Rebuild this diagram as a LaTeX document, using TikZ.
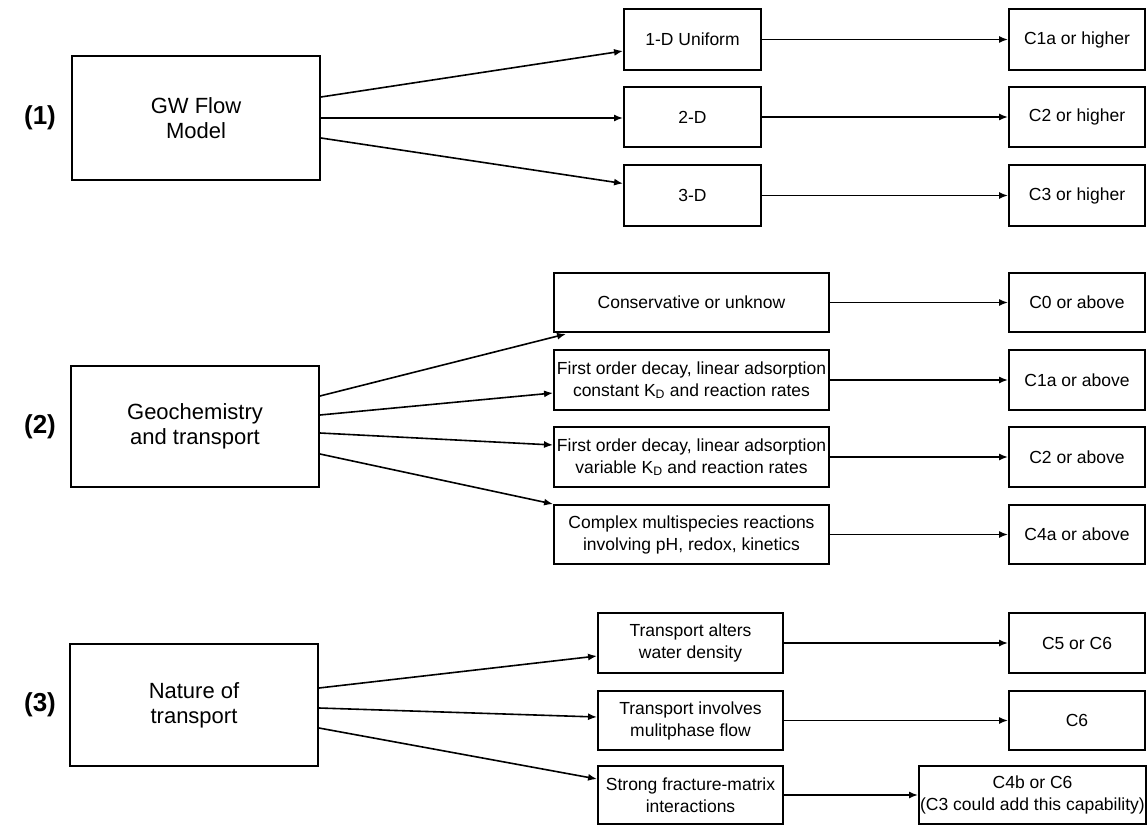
\documentclass[tikz,border=0pt]{standalone}
\usepackage{fontspec}
\setmainfont{Liberation Sans}
\usetikzlibrary{arrows.meta}
\begin{document}
\begin{tikzpicture}[x=1pt,y=-1pt,
  box/.style={draw,line width=1.9pt,rectangle,inner sep=0pt,align=center,
    font=\fontsize{17.5}{22}\selectfont},
  bigbox/.style={box,font=\fontsize{22}{25}\selectfont},
  tag/.style={font=\bfseries\fontsize{26}{30}\selectfont},
  arr/.style={line width=1.6pt,-{Latex[length=9pt,width=7pt]}}]
\useasboundingbox[fill=white] (0,0) rectangle (1147,826);

% ---- (1) groundwater flow model ----
\node[tag] (t1) at (40,118) {(1)};
\node[bigbox,minimum width=248pt,minimum height=124pt] (gw) at (196,118) {GW Flow\\Model};
\node[box,minimum width=137pt,minimum height=61pt] (d1) at (692.5,39.5) {1-D Uniform};
\node[box,minimum width=137pt,minimum height=60pt] (d2) at (692.5,117) {2-D};
\node[box,minimum width=137pt,minimum height=61pt] (d3) at (692.5,195.5) {3-D};
\node[box,minimum width=136pt,minimum height=61pt] (c1) at (1077,39.5) {C1a or higher};
\node[box,minimum width=136pt,minimum height=60pt] (c2) at (1077,117) {C2 or higher};
\node[box,minimum width=136pt,minimum height=61pt] (c3) at (1077,195.5) {C3 or higher};
\draw[arr] ([yshift=21pt]gw.east) -- ([yshift=-11.5pt]d1.west);
\draw[arr] (gw.east) -- (d2.west |- gw.east);
\draw[arr] ([yshift=-20pt]gw.east) -- ([yshift=12pt]d3.west);
\draw[arr] (d1) -- (c1);
\draw[arr] (d2) -- (c2);
\draw[arr] (d3) -- (c3);

% ---- (2) geochemistry and transport ----
\node[tag] (t2) at (40,427) {(2)};
\node[bigbox,minimum width=248pt,minimum height=121pt] (geo) at (195,426.5) {Geochemistry\\and transport};
\node[box,minimum width=275pt,minimum height=59pt] (cons) at (691.5,302.5) {Conservative or unknow};
\node[box,minimum width=275pt,minimum height=60pt] (fo1) at (691.5,380) {First order decay, linear adsorption\\constant K\textsubscript{D} and reaction rates};
\node[box,minimum width=275pt,minimum height=60pt] (fo2) at (691.5,457) {First order decay, linear adsorption\\variable K\textsubscript{D} and reaction rates};
\node[box,minimum width=275pt,minimum height=59pt] (cplx) at (691.5,534.5) {Complex multispecies reactions\\involving pH, redox, kinetics};
\node[box,minimum width=136pt,minimum height=59pt] (k0) at (1077,302.5) {C0 or above};
\node[box,minimum width=136pt,minimum height=60pt] (k1) at (1077,380) {C1a or above};
\node[box,minimum width=136pt,minimum height=60pt] (k2) at (1077,457) {C2 or above};
\node[box,minimum width=136pt,minimum height=59pt] (k4) at (1077,534.5) {C4a or above};
\draw[arr] ([yshift=30.5pt]geo.east) -- ([xshift=13pt,yshift=-1pt]cons.south west);
\draw[arr] ([yshift=11.5pt]geo.east) -- ([yshift=-13pt]fo1.west);
\draw[arr] ([yshift=-6.5pt]geo.east) -- ([yshift=12pt]fo2.west);
\draw[arr] ([yshift=-27.5pt]geo.east) -- (cplx.north west);
\draw[arr] (cons) -- (k0);
\draw[arr] (fo1) -- (k1);
\draw[arr] (fo2) -- (k2);
\draw[arr] (cplx) -- (k4);

% ---- (3) nature of transport ----
\node[tag] (t3) at (40,705) {(3)};
\node[bigbox,minimum width=248pt,minimum height=122pt] (nat) at (194,705) {Nature of\\transport};
\node[box,minimum width=185pt,minimum height=60pt] (ta) at (690.5,643) {Transport alters\\water density};
\node[box,minimum width=185pt,minimum height=59pt] (ti) at (690.5,720.5) {Transport involves\\mulitphase flow};
\node[box,minimum width=185pt,minimum height=58pt] (sf) at (690.5,795) {Strong fracture-matrix\\interactions};
\node[box,minimum width=136pt,minimum height=60pt] (k5) at (1077,643) {C5 or C6};
\node[box,minimum width=136pt,minimum height=59pt] (k6) at (1077,720.5) {C6};
\node[box,minimum width=227pt,minimum height=58pt] (k4b) at (1032.5,795) {C4b or C6\\(C3 could add this capability)};
\draw[arr] ([yshift=17pt]nat.east) -- ([yshift=-13pt]ta.west);
\draw[arr] ([yshift=-3pt]nat.east) -- ([yshift=3.5pt]ti.west);
\draw[arr] ([yshift=-23pt]nat.east) -- ([yshift=16pt]sf.west);
\draw[arr] (ta) -- (k5);
\draw[arr] (ti) -- (k6);
\draw[arr] (sf) -- (k4b);
\end{tikzpicture}
\end{document}
